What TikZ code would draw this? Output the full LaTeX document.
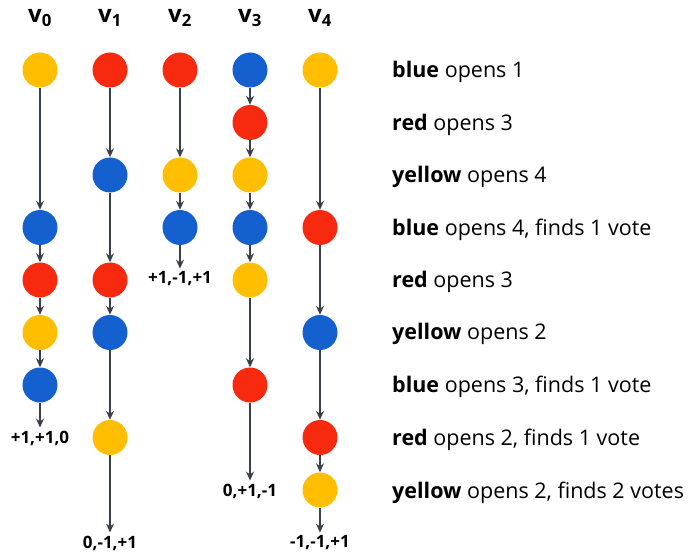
\documentclass[tikz,border=0pt]{standalone}
\usepackage{fontspec}
\setmainfont{Open Sans}
\usetikzlibrary{arrows.meta}
\definecolor{cyel}{RGB}{255,190,0}
\definecolor{cred}{RGB}{247,42,16}
\definecolor{cblu}{RGB}{20,96,206}
\definecolor{cline}{RGB}{58,63,74}
\begin{document}
\begin{tikzpicture}[x=1pt,y=-1pt,
  dot/.style={circle,minimum size=35pt,inner sep=0pt,draw=none},
  Y/.style={dot,fill=cyel},
  R/.style={dot,fill=cred},
  B/.style={dot,fill=cblu},
  hdr/.style={font=\fontsize{24}{28}\selectfont\bfseries,inner sep=0pt},
  res/.style={font=\fontsize{17}{20}\selectfont\bfseries,inner xsep=0pt,inner ysep=3pt},
  txt/.style={font=\fontsize{21.5}{25}\selectfont,anchor=west,inner sep=0pt},
  conn/.style={draw=cline,line width=1.4pt,-{Stealth[length=9pt,width=8pt,inset=3pt]}}
]
\useasboundingbox (0,0) rectangle (690,556);
% headers
\node[hdr] (h0) at (40,18) {v\textsubscript{0}};
\node[hdr] (h1) at (110,18) {v\textsubscript{1}};
\node[hdr] (h2) at (180,18) {v\textsubscript{2}};
\node[hdr] (h3) at (250,18) {v\textsubscript{3}};
\node[hdr] (h4) at (320,18) {v\textsubscript{4}};
% v0
\node[Y] (a0) at (40,70) {};
\node[B] (a3) at (40,227.5) {};
\node[R] (a4) at (40,280) {};
\node[Y] (a5) at (40,332.5) {};
\node[B] (a6) at (40,385) {};
\node[res] (la) at (40,438) {+1,+1,0};
\draw[conn] (a0) -- (a3);
\draw[conn] (a3) -- (a4);
\draw[conn] (a4) -- (a5);
\draw[conn] (a5) -- (a6);
\draw[conn] (a6) -- (la);
% v1
\node[R] (b0) at (110,70) {};
\node[B] (b2) at (110,175) {};
\node[R] (b4) at (110,280) {};
\node[B] (b5) at (110,332.5) {};
\node[Y] (b7) at (110,437.5) {};
\node[res] (lb) at (110,543) {0,-1,+1};
\draw[conn] (b0) -- (b2);
\draw[conn] (b2) -- (b4);
\draw[conn] (b4) -- (b5);
\draw[conn] (b5) -- (b7);
\draw[conn] (b7) -- (lb);
% v2
\node[R] (c0) at (180,70) {};
\node[Y] (c2) at (180,175) {};
\node[B] (c3) at (180,227.5) {};
\node[res] (lc) at (180,279) {+1,-1,+1};
\draw[conn] (c0) -- (c2);
\draw[conn] (c2) -- (c3);
\draw[conn] (c3) -- (lc);
% v3
\node[B] (d0) at (250,70) {};
\node[R] (d1) at (250,122.5) {};
\node[Y] (d2) at (250,175) {};
\node[B] (d3) at (250,227.5) {};
\node[Y] (d4) at (250,280) {};
\node[R] (d6) at (250,385) {};
\node[res] (ld) at (250,491) {0,+1,-1};
\draw[conn] (d0) -- (d1);
\draw[conn] (d1) -- (d2);
\draw[conn] (d2) -- (d3);
\draw[conn] (d3) -- (d4);
\draw[conn] (d4) -- (d6);
\draw[conn] (d6) -- (ld);
% v4
\node[Y] (e0) at (320,70) {};
\node[R] (e3) at (320,227.5) {};
\node[B] (e5) at (320,332.5) {};
\node[R] (e7) at (320,437.5) {};
\node[Y] (e8) at (320,490) {};
\node[res] (le) at (320,543) {-1,-1,+1};
\draw[conn] (e0) -- (e3);
\draw[conn] (e3) -- (e5);
\draw[conn] (e5) -- (e7);
\draw[conn] (e7) -- (e8);
\draw[conn] (e8) -- (le);
% right texts
\node[txt] (t0) at (392,72) {\textbf{blue} opens 1};
\node[txt] (t1) at (392,125) {\textbf{red} opens 3};
\node[txt] (t2) at (392,177) {\textbf{yellow} opens 4};
\node[txt] (t3) at (392,230) {\textbf{blue} opens 4, finds 1 vote};
\node[txt] (t4) at (392,282) {\textbf{red} opens 3};
\node[txt] (t5) at (392,334) {\textbf{yellow} opens 2};
\node[txt] (t6) at (392,387) {\textbf{blue} opens 3, finds 1 vote};
\node[txt] (t7) at (392,440) {\textbf{red} opens 2, finds 1 vote};
\node[txt] (t8) at (392,493) {\textbf{yellow} opens 2, finds 2 votes};
\end{tikzpicture}
\end{document}
